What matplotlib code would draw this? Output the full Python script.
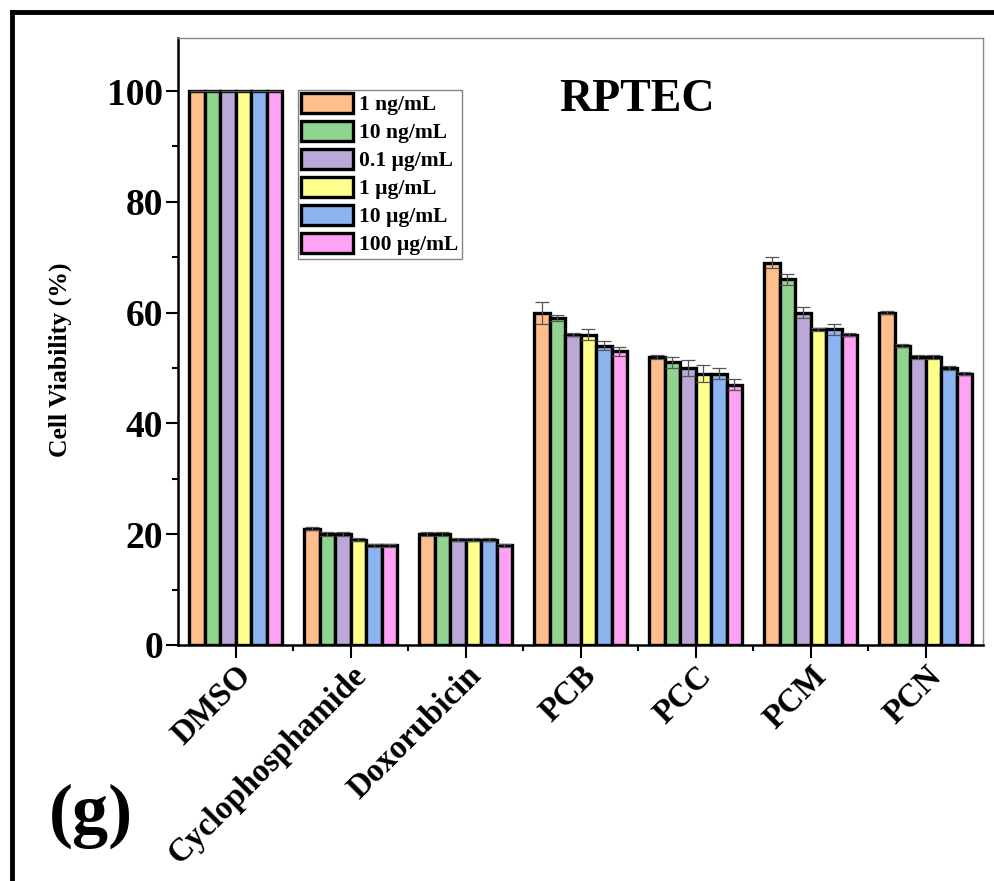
import numpy as np
import matplotlib.pyplot as plt
from matplotlib.lines import Line2D

plt.rcParams['font.family'] = ['Liberation Serif', 'DejaVu Serif']
plt.rcParams['font.weight'] = 'bold'

# data
groups = ['DMSO', 'Cyclophosphamide', 'Doxorubicin', 'PCB', 'PCC', 'PCM', 'PCN']
doses = ['1 ng/mL', '10 ng/mL', '0.1 µg/mL', '1 µg/mL', '10 µg/mL', '100 µg/mL']
colors = ['#FFBF8C', '#90D490', '#BCA8D6', '#FFFF8C', '#8CB4F0', '#FFA2F6']

# viability per dose (rows) for each group (columns)
vals = [
    [100, 21, 20, 60, 52, 69, 60],
    [100, 20, 20, 59, 51, 66, 54],
    [100, 20, 19, 56, 50, 60, 52],
    [100, 19, 19, 56, 49, 57, 52],
    [100, 18, 19, 54, 49, 57, 50],
    [100, 18, 18, 53, 47, 56, 49],
]
errs = [
    [0, 0.3, 0.3, 2.0, 0.3, 1.0, 0.3],
    [0, 0.4, 0.3, 0.5, 1.0, 1.0, 0.3],
    [0, 0.4, 0.3, 0.3, 1.5, 1.0, 0.3],
    [0, 0.3, 0.3, 1.0, 1.5, 0.3, 0.3],
    [0, 0.3, 0.3, 0.8, 1.0, 1.0, 0.3],
    [0, 0.3, 0.3, 0.8, 1.0, 0.3, 0.3],
]

fig = plt.figure(figsize=(9.95, 8.81), dpi=100)
ax = fig.add_axes([0.179, 0.268, 0.809, 0.689])

x = np.arange(len(groups))
w = 0.135
for i in range(len(doses)):
    pos = x + (i - 2.5) * w
    ax.bar(pos, vals[i], w, color=colors[i], edgecolor='black', linewidth=2.4,
           label=doses[i], zorder=2)
    ax.errorbar(pos, vals[i], yerr=errs[i], fmt='none', ecolor='#555555',
                elinewidth=0.9, capsize=5, capthick=0.9, zorder=3)

ax.set_xlim(-0.5, 6.5)
ax.set_ylim(0, 109.6)
ax.set_yticks([0, 20, 40, 60, 80, 100])
ax.set_yticks([10, 30, 50, 70, 90], minor=True)
ax.set_xticks(x)
ax.set_xticks(x[:-1] + 0.5, minor=True)
ax.set_xticklabels(groups, rotation=45, ha='right', va='top',
                   rotation_mode='anchor', fontsize=23.5, fontweight='bold')
for t in ax.get_yticklabels():
    t.set_fontsize(27)
    t.set_fontweight('bold')
ax.tick_params(axis='both', which='major', direction='out', length=9, width=1.5)
ax.tick_params(axis='both', which='minor', direction='out', length=4.5, width=1.5)
ax.tick_params(axis='x', which='major', pad=2)
ax.tick_params(axis='y', which='major', pad=2)

for s in ['left', 'bottom']:
    ax.spines[s].set_linewidth(1.8)
for s in ['top', 'right']:
    ax.spines[s].set_color('#888888')
    ax.spines[s].set_linewidth(1.0)

ax.set_ylabel('Cell Viability (%)', fontsize=18.5, fontweight='bold')
ax.yaxis.set_label_coords(-0.132, 0.47)

ax.text(0.57, 0.897, 'RPTEC', transform=ax.transAxes, fontsize=33,
        fontweight='bold', ha='center', va='center')

leg = ax.legend(loc='upper left', bbox_to_anchor=(0.149, 0.914), fontsize=15.5,
                frameon=True, fancybox=False, edgecolor='#666666',
                handlelength=2.4, handleheight=1.0, labelspacing=0.28,
                handletextpad=0.3, borderpad=0.15, borderaxespad=0)
leg.get_frame().set_linewidth(1.0)
for t in leg.get_texts():
    t.set_fontweight('bold')

fig.text(0.091, 0.073, '(g)', fontsize=52, fontweight='bold', ha='center', va='center')

# outer frame, only left and top edges visible
fig.add_artist(Line2D([0.012, 0.012], [0.0, 0.986], color='black', linewidth=3.5,
                      transform=fig.transFigure))
fig.add_artist(Line2D([0.012, 1.0], [0.986, 0.986], color='black', linewidth=3.5,
                      transform=fig.transFigure))

fig.savefig('out.png', dpi=100)
